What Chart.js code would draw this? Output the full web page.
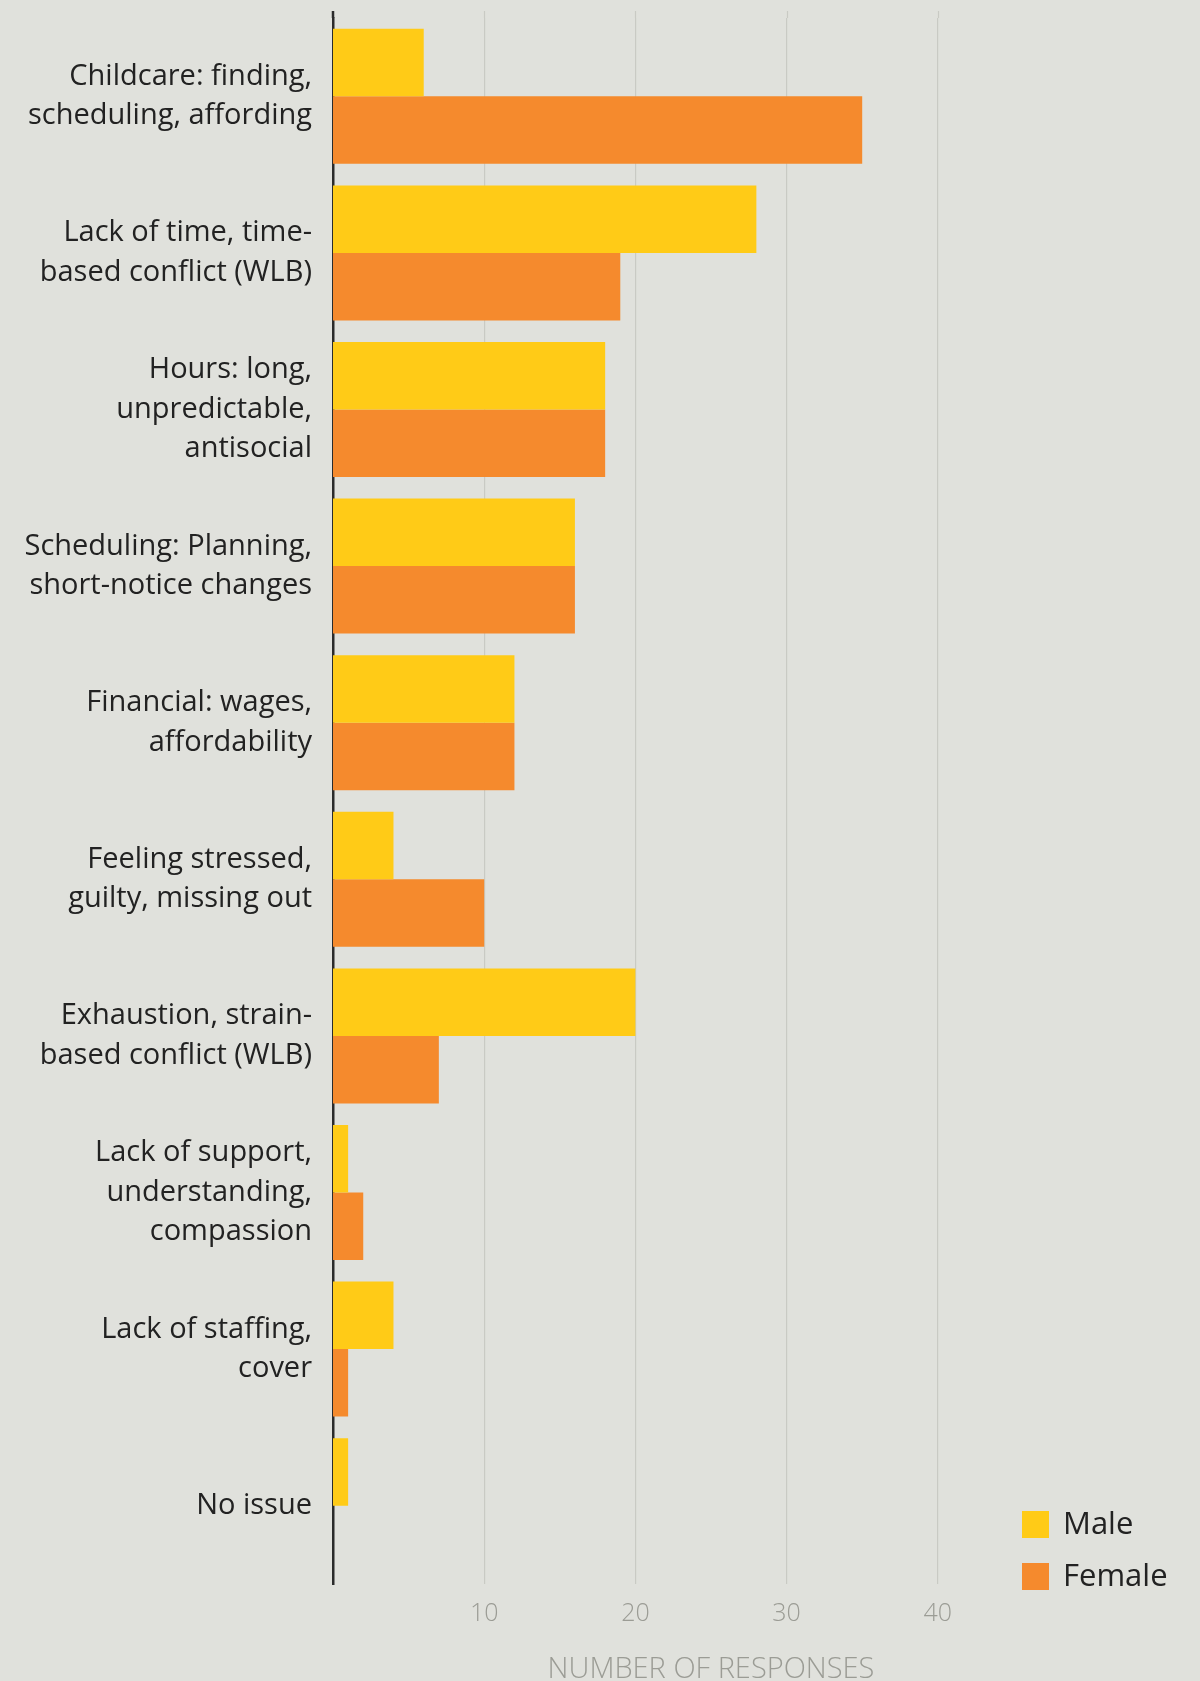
<!DOCTYPE html>
<html>
<head>
<meta charset="utf-8">
<title>Work-life balance issues by gender</title>
<script src="https://cdn.jsdelivr.net/npm/chart.js@4"></script>
<style>
    html, body { margin: 0; padding: 0; background: #e0e1dc; }
    #chart-wrap { width: 1200px; height: 1681px; }
</style>
</head>
<body>
<div id="chart-wrap">
    <canvas id="issues-chart" width="1200" height="1681"></canvas>
</div>
<script>
const categories = [
    ['Childcare: finding,', 'scheduling, affording'],
    ['Lack of time, time-', 'based conflict (WLB)'],
    ['Hours: long,', 'unpredictable,', 'antisocial'],
    ['Scheduling: Planning,', 'short-notice changes'],
    ['Financial: wages,', 'affordability'],
    ['Feeling stressed,', 'guilty, missing out'],
    ['Exhaustion, strain-', 'based conflict (WLB)'],
    ['Lack of support,', 'understanding,', 'compassion'],
    ['Lack of staffing,', 'cover'],
    ['No issue']
];
const maleResponses   = [6, 28, 18, 16, 12, 4, 20, 1, 4, 1];
const femaleResponses = [35, 19, 18, 16, 12, 10, 7, 2, 1, 0];
const xTicks = [10, 20, 30, 40];

const MALE_COLOR = '#ffcb17';
const FEMALE_COLOR = '#f58a2d';
const FONT = '"Open Sans", Lato, sans-serif';

// legend sits inside the plot, bottom right
const cornerLegend = {
    id: 'cornerLegend',
    afterDraw(chart) {
        const ctx = chart.ctx;
        const area = chart.chartArea;
        const box = 27;
        const rowGap = 52;
        const x = area.right - 67;
        let y = area.bottom - 73;
        ctx.save();
        ctx.font = '500 31px ' + FONT;
        ctx.textBaseline = 'middle';
        chart.data.datasets.forEach(ds => {
            ctx.fillStyle = ds.backgroundColor;
            ctx.fillRect(x, y, box, box);
            ctx.fillStyle = '#222222';
            ctx.fillText(ds.label, x + 41, y + box / 2 + 1);
            y += rowGap;
        });
        ctx.restore();
    }
};

// the zero axis runs a little past the top of the bars
const axisCap = {
    id: 'axisCap',
    afterDraw(chart) {
        const ctx = chart.ctx;
        const area = chart.chartArea;
        ctx.save();
        ctx.strokeStyle = '#2b2b2b';
        ctx.lineWidth = 2.5;
        ctx.beginPath();
        ctx.moveTo(area.left, area.top - 7);
        ctx.lineTo(area.left, area.top);
        ctx.stroke();
        ctx.strokeStyle = '#c9cac4';
        ctx.lineWidth = 1.2;
        const x = chart.scales.x;
        xTicks.forEach(v => {
            const px = Math.round(x.getPixelForValue(v)) + 0.5;
            ctx.beginPath();
            ctx.moveTo(px, area.top - 7);
            ctx.lineTo(px, area.top);
            ctx.stroke();
        });
        ctx.restore();
    }
};

const canvas = document.getElementById('issues-chart');
if (canvas) {
    new Chart(canvas.getContext('2d'), {
        type: 'bar',
        data: {
            labels: categories,
            datasets: [
                {
                    label: 'Male',
                    data: maleResponses,
                    backgroundColor: MALE_COLOR,
                    borderWidth: 0
                },
                {
                    label: 'Female',
                    data: femaleResponses,
                    backgroundColor: FEMALE_COLOR,
                    borderWidth: 0
                }
            ]
        },
        options: {
            indexAxis: 'y',
            responsive: false,
            animation: false,
            devicePixelRatio: 1,
            layout: { padding: { top: 18, right: 111, left: 0, bottom: 0 } },
            datasets: {
                bar: { categoryPercentage: 0.862, barPercentage: 1.0 }
            },
            plugins: {
                legend: { display: false },
                tooltip: { enabled: false }
            },
            scales: {
                x: {
                    min: 0,
                    max: 50,
                    afterBuildTicks: scale => {
                        scale.ticks = xTicks.map(v => ({ value: v }));
                    },
                    afterFit: scale => {
                        scale.height = 97;
                        scale.paddingLeft = 0;
                        scale.paddingRight = 0;
                    },
                    grid: {
                        color: '#c9cac4',
                        lineWidth: 1.2,
                        drawTicks: false
                    },
                    border: { display: false },
                    ticks: {
                        padding: 15,
                        color: '#9b9c95',
                        font: { family: FONT, size: 25, weight: '300' }
                    },
                    title: {
                        display: true,
                        text: 'NUMBER OF RESPONSES',
                        color: '#9b9c95',
                        font: { family: FONT, size: 29, weight: '300' },
                        padding: { top: 0, bottom: -6 }
                    }
                },
                y: {
                    afterFit: scale => {
                        // fixed gutter for the labels, no extra room above/below the plot
                        scale.width = 333;
                        scale.paddingTop = 0;
                        scale.paddingBottom = 0;
                    },
                    grid: { display: false, drawTicks: false },
                    border: { display: true, color: '#2b2b2b', width: 2.5 },
                    ticks: {
                        padding: 21,
                        color: '#222222',
                        font: { family: FONT, size: 29, weight: '500', lineHeight: 1.37 }
                    }
                }
            }
        },
        plugins: [cornerLegend, axisCap]
    });
} else {
    console.error('Error: issues-chart canvas not found!');
}
</script>
</body>
</html>
